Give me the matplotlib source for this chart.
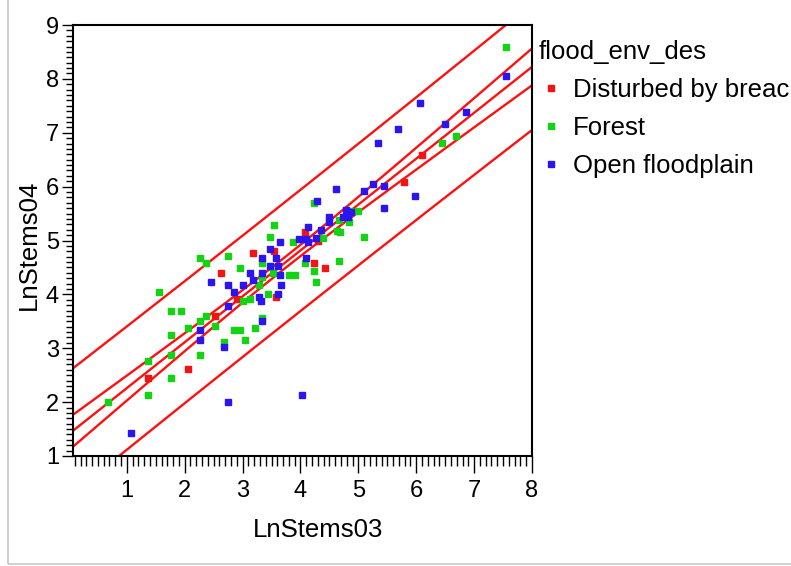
import numpy as np
import matplotlib
matplotlib.use('Agg')
from matplotlib import pyplot as plt
from matplotlib.ticker import MultipleLocator
from matplotlib.patches import Rectangle

plt.rcParams['font.family'] = ['Liberation Sans', 'DejaVu Sans']

# LnStems03 / LnStems04 by flood_env_des
dist_x = [6.10, 5.78, 4.07, 4.30, 4.23, 4.43, 3.54, 3.18, 3.57, 2.62, 2.91, 2.52, 2.06, 1.37]
dist_y = [6.58, 6.09, 5.16, 4.99, 4.58, 4.49, 4.81, 4.76, 3.96, 4.40, 3.91, 3.60, 2.62, 2.45]

forest_x = [7.55, 6.68, 6.44, 4.23, 3.54, 3.47, 3.87, 4.66, 4.69, 4.63, 4.86, 4.99, 5.09,
            4.84, 4.39, 4.07, 4.23, 4.26, 4.66, 3.80, 3.90, 3.34, 3.34, 3.28, 2.95, 2.75,
            2.26, 2.36, 1.56, 1.77, 1.94, 2.06, 1.77, 2.26, 2.36, 2.52, 2.26, 1.77, 1.37,
            1.77, 1.37, 0.68, 2.68, 2.85, 2.95, 3.05, 3.22, 3.34, 3.44, 3.12, 3.00, 3.52]
forest_y = [8.59, 6.94, 6.81, 5.69, 5.29, 5.07, 4.98, 5.38, 5.15, 5.17, 5.55, 5.55, 5.07,
            5.34, 5.05, 4.58, 4.44, 4.23, 4.62, 4.36, 4.36, 4.58, 4.32, 4.17, 4.49, 4.71,
            4.67, 4.58, 4.05, 3.69, 3.69, 3.37, 3.24, 3.51, 3.60, 3.42, 2.88, 2.88, 2.76,
            2.45, 2.13, 2.00, 3.11, 3.33, 3.33, 3.16, 3.37, 3.56, 4.00, 3.92, 3.87, 4.39]

open_x = [7.55, 6.07, 6.86, 6.49, 5.68, 5.34, 5.25, 5.45, 5.09, 4.62, 5.97, 5.45, 4.29,
          4.49, 4.49, 4.79, 4.87, 4.74, 4.82, 4.13, 4.36, 3.97, 4.10, 4.13, 4.27, 3.64,
          3.47, 3.34, 3.57, 3.47, 3.61, 4.10, 3.12, 3.34, 3.64, 3.18, 3.67, 3.01, 2.75,
          2.46, 2.85, 3.28, 3.31, 3.61, 2.75, 3.34, 2.26, 2.26, 2.68, 2.75, 4.03, 1.07]
open_y = [8.05, 7.56, 7.39, 7.16, 7.07, 6.81, 6.05, 6.01, 5.91, 5.96, 5.83, 5.60, 5.73,
          5.43, 5.34, 5.56, 5.52, 5.43, 5.43, 5.25, 5.20, 5.02, 5.02, 4.98, 5.05, 4.98,
          4.84, 4.67, 4.67, 4.53, 4.53, 4.67, 4.40, 4.40, 4.36, 4.27, 4.18, 4.18, 4.18,
          4.23, 4.05, 3.96, 3.87, 4.00, 3.78, 3.51, 3.33, 3.16, 3.02, 2.00, 2.13, 1.42]

groups = ['Disturbed by breach', 'Forest', 'Open floodplain']
colors = ['#f01414', '#14d214', '#2a14f0']

W, H = 791, 566
fig = plt.figure(figsize=(W / 100, H / 100), dpi=100)
ax = fig.add_axes([73 / W, 1 - 456 / H, 459 / W, 431 / H])

for gx, gy, name, c in zip([dist_x, forest_x, open_x], [dist_y, forest_y, open_y], groups, colors):
    ax.plot(gx, gy, 's', ms=3.8, color=c, mec=c, label=name, zorder=3)

# linear fit with 95% confidence and prediction bands
x = np.array(dist_x + forest_x + open_x)
y = np.array(dist_y + forest_y + open_y)
n = len(x)
b, a = np.polyfit(x, y, 1)
resid = y - (a + b * x)
s = np.sqrt(np.sum(resid ** 2) / (n - 2))
sxx = np.sum((x - x.mean()) ** 2)
t = 1.98

xl = np.linspace(0.07, 8, 200)
yl = a + b * xl
ci = t * s * np.sqrt(1 / n + (xl - x.mean()) ** 2 / sxx)
pi = t * s * np.sqrt(1 + 1 / n + (xl - x.mean()) ** 2 / sxx)
for curve in [yl, yl - ci, yl + ci, yl - pi, yl + pi]:
    ax.plot(xl, curve, color='#ff1010', lw=1.7, zorder=2)

ax.set_xlim(0.07, 8)
ax.set_ylim(1, 9)
ax.xaxis.set_major_locator(MultipleLocator(1))
ax.xaxis.set_minor_locator(MultipleLocator(0.1))
ax.yaxis.set_major_locator(MultipleLocator(1))
ax.yaxis.set_minor_locator(MultipleLocator(0.1))
ax.tick_params(axis='x', which='major', length=12, width=1, labelsize=17, pad=5)
ax.tick_params(axis='x', which='minor', length=7, width=1)
ax.tick_params(axis='y', which='major', length=8, width=1, labelsize=17, pad=2)
ax.tick_params(axis='y', which='minor', length=5, width=1)
for sp in ax.spines.values():
    sp.set_linewidth(1.5)

ax.set_xlabel('LnStems03', fontsize=18.5)
ax.set_ylabel('LnStems04', fontsize=18.5)
ax.xaxis.set_label_coords(0.534, -0.145)
ax.yaxis.set_label_coords(-0.07, 0.49)

leg = ax.legend(title='flood_env_des', loc='upper left', bbox_to_anchor=(526 / W, 1 - 27 / H),
                bbox_transform=fig.transFigure, frameon=False, fontsize=18.5,
                title_fontsize=18.5, alignment='left', borderaxespad=0, borderpad=0.49,
                handlelength=1.0, handletextpad=0.32, labelspacing=0.55, markerscale=1.0)

# outer light frame
fig.patches.append(Rectangle((8 / W, 2 / H), 1.0, 1.0, transform=fig.transFigure,
                             fill=False, edgecolor='#c8c8c8', lw=1.2))

fig.savefig('out.png', dpi=100)
